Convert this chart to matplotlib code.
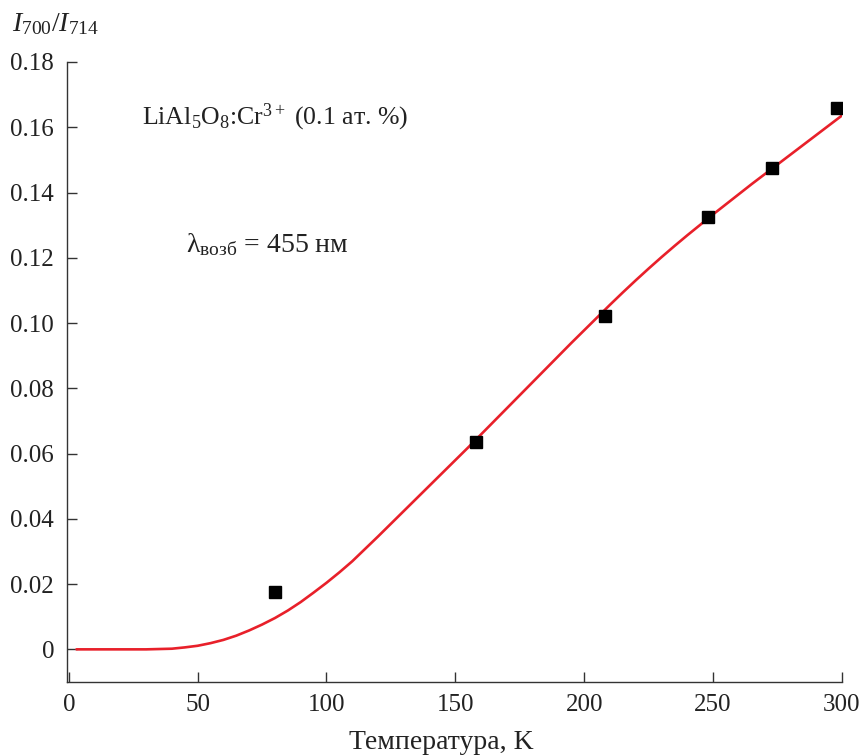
import matplotlib
matplotlib.use("Agg")
import matplotlib.pyplot as plt

plt.rcParams['font.family'] = ['Liberation Serif', 'DejaVu Serif']
plt.rcParams['mathtext.fontset'] = 'custom'
plt.rcParams['mathtext.rm'] = 'Liberation Serif'
plt.rcParams['mathtext.it'] = 'Liberation Serif:italic'
plt.rcParams['mathtext.bf'] = 'Liberation Serif:bold'

# measured points
temp_pts = [80, 158, 208, 248, 273, 298]
ratio_pts = [0.0175, 0.0635, 0.1023, 0.1325, 0.1475, 0.166]

# fitted curve
temp_fit = [3, 10, 20, 30, 35, 40, 45, 50, 55, 60, 65, 70, 75, 80, 85, 90, 95,
            100, 105, 110, 115, 120, 125, 130, 135, 140, 145, 150, 155, 160, 165,
            170, 175, 180, 185, 190, 195, 200, 205, 210, 215, 220, 225, 230, 235,
            240, 245, 250, 255, 260, 265, 270, 275, 280, 285, 290, 295, 300]
ratio_fit = [0.0, 0.0, 0.0, 0.0, 0.0001, 0.0002, 0.0006, 0.0011, 0.0019, 0.0029,
             0.0042, 0.0058, 0.0076, 0.0096, 0.0119, 0.0145, 0.0174, 0.0204,
             0.0236, 0.0270, 0.0308, 0.0346, 0.0385, 0.0424, 0.0463, 0.0502,
             0.0541, 0.0580, 0.0619, 0.0659, 0.0699, 0.0739, 0.0779, 0.0819,
             0.0859, 0.0899, 0.0939, 0.0978, 0.1017, 0.1056, 0.1094, 0.1131,
             0.1167, 0.1202, 0.1236, 0.1269, 0.1301, 0.1333, 0.1364, 0.1395,
             0.1426, 0.1456, 0.1486, 0.1516, 0.1546, 0.1576, 0.1606, 0.1636]

xticks = [0, 50, 100, 150, 200, 250, 300]
yticks = [0, 0.02, 0.04, 0.06, 0.08, 0.10, 0.12, 0.14, 0.16, 0.18]
ytick_labels = ['0', '0.02', '0.04', '0.06', '0.08', '0.10', '0.12', '0.14', '0.16', '0.18']

fig = plt.figure(figsize=(8.64, 7.55), dpi=100)
ax = fig.add_axes([0.0772, 0.0967, 0.9745 - 0.0772, 0.9179 - 0.0967])

ax.plot(temp_fit, ratio_fit, color='#e8202a', lw=1.9, zorder=2,
        solid_joinstyle='round', solid_capstyle='round')
ax.plot(temp_pts, ratio_pts, 's', color='black', markersize=9, zorder=3)

ax.set_xlim(-0.8, 300)
ax.set_ylim(-0.01, 0.18)
ax.set_xticks(xticks)
ax.set_yticks(yticks)
ax.set_yticklabels(ytick_labels)

for s in ['top', 'right']:
    ax.spines[s].set_visible(False)
for s in ['left', 'bottom']:
    ax.spines[s].set_color('#333333')
    ax.spines[s].set_linewidth(1.0)

ax.tick_params(direction='in', length=7, width=1.0, color='#333333',
               labelsize=18, labelcolor='#222222', pad=9)

ax.set_xlabel('Температура, K', fontsize=20, color='#222222', labelpad=10, x=0.483)

fig.text(0.014, 0.959, r'$I_{700}/I_{714}$', fontsize=20, color='#222222',
         ha='left', va='baseline')

ax.text(28.5, 0.163, r'LiAl$_5$O$_8$:Cr$^{3+}$ (0.1 ат. %)', fontsize=18.6,
        color='#222222', ha='left', va='center')
ax.text(45.5, 0.124, r'λ$_{\mathrm{возб}}$ = 455 нм', fontsize=20,
        color='#222222', ha='left', va='center')

fig.savefig('out.png', dpi=100)
